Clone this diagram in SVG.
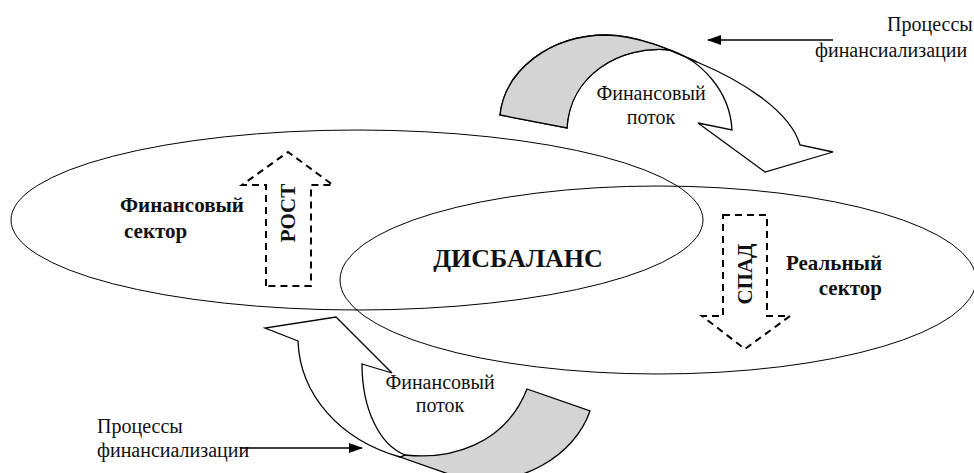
<svg xmlns="http://www.w3.org/2000/svg" width="974" height="473" viewBox="0 0 974 473">
  <style>
    .bg { fill: #ffffff; }
    .sector { fill: none; stroke: #000; stroke-width: 1; }
    .ribbon { fill: #ffffff; stroke: #000; stroke-width: 1.3; stroke-linejoin: miter; }
    .ribbon-back { fill: #d4d4d4; stroke: #000; stroke-width: 1.3; }
    .dash { fill: none; stroke: #000; stroke-width: 2; stroke-dasharray: 7 5; }
    text { font-family: 'Liberation Serif', 'DejaVu Serif', serif; fill: #111; }
    .b { font-weight: bold; }
    .link { stroke: #000; stroke-width: 1.5; fill: none; }
  </style>
  <defs>
    <marker id="head" markerWidth="14" markerHeight="10" refX="13" refY="5" orient="auto" markerUnits="userSpaceOnUse">
      <path d="M0,0 L14,5 L0,10 Z" fill="#000"/>
    </marker>
  </defs>

  <rect class="bg" x="0" y="0" width="974" height="473"/>

  <!-- financial sector -->
  <g id="financial-sector" font-family="Liberation Serif, serif">
    <ellipse class="sector" cx="357" cy="220" rx="346" ry="90"/>
    <text class="b" x="120" y="212" font-size="21">Финансовый</text>
    <text class="b" x="124" y="238" font-size="21">сектор</text>
  </g>

  <!-- real sector -->
  <g id="real-sector" font-family="Liberation Serif, serif">
    <ellipse class="sector" cx="658" cy="280" rx="318" ry="94"/>
    <text class="b" x="882" y="270" font-size="21" text-anchor="end">Реальный</text>
    <text class="b" x="882" y="295" font-size="21" text-anchor="end">сектор</text>
  </g>

  <!-- imbalance in the overlap -->
  <g id="imbalance" font-family="Liberation Serif, serif">
    <text class="b" x="518" y="267" font-size="26" text-anchor="middle">ДИСБАЛАНС</text>
  </g>

  <!-- growth arrow (dashed, up) -->
  <g id="growth" font-family="Liberation Serif, serif">
    <path class="dash" d="M266,286 L266,185 L242,185 L288,152 L333,185 L311,185 L311,286 Z"/>
    <text class="b" font-size="21" text-anchor="middle" transform="translate(295,213) rotate(-90)">РОСТ</text>
  </g>

  <!-- decline arrow (dashed, down) -->
  <g id="decline" font-family="Liberation Serif, serif">
    <path class="dash" d="M723,215 L767,215 L767,316 L790,316 L745,349 L702,316 L723,316 Z"/>
    <text class="b" font-size="21" text-anchor="middle" transform="translate(752,274) rotate(-90)">СПАД</text>
  </g>

  <!-- upper financial flow: twisted ribbon arrow -->
  <g id="flow-top" font-family="Liberation Serif, serif">
    <path class="ribbon" d="M500,115 C505,70 550,35 607,35 C640,36 670,50 697,62 C740,80 790,110 800,145 L833,152 L765,172 L698,123 L732,130 C730,90 700,60 670,50 C620,45 570,75 567,128 Z"/>
    <path class="ribbon-back" d="M500,115 C505,70 550,35 607,35 C640,36 670,50 697,62 L670,50 C620,45 570,75 567,128 Z"/>
    <text x="651" y="100" font-size="20" text-anchor="middle">Финансовый</text>
    <text x="651" y="124" font-size="20" text-anchor="middle">поток</text>
  </g>

  <!-- lower financial flow: twisted ribbon arrow -->
  <g id="flow-bottom" font-family="Liberation Serif, serif">
    <path class="ribbon-back" d="M405,455 C450,460 505,445 527,389 L590,411 C575,455 520,490 460,478 L400,457 Z"/>
    <path class="ribbon" d="M298,341 L265,328 L336,317 L392,373 L362,364 C362,410 380,445 405,455 L400,457 C340,440 300,395 298,341 Z"/>
    <text x="440" y="389" font-size="20" text-anchor="middle">Финансовый</text>
    <text x="440" y="412" font-size="20" text-anchor="middle">поток</text>
  </g>

  <!-- financialisation process labels -->
  <g id="process-top" font-family="Liberation Serif, serif">
    <text x="887" y="31" font-size="20">Процессы</text>
    <text x="815" y="57" font-size="20">финансиализации</text>
  </g>
  <g id="process-bottom" font-family="Liberation Serif, serif">
    <text x="97" y="433" font-size="20">Процессы</text>
    <text x="97" y="457" font-size="20">финансиализации</text>
  </g>

  <!-- connectors -->
  <g id="connectors">
    <line class="link" x1="833" y1="40" x2="708" y2="40" marker-end="url(#head)"/>
    <line class="link" x1="240" y1="448" x2="362" y2="448" marker-end="url(#head)"/>
  </g>
</svg>
